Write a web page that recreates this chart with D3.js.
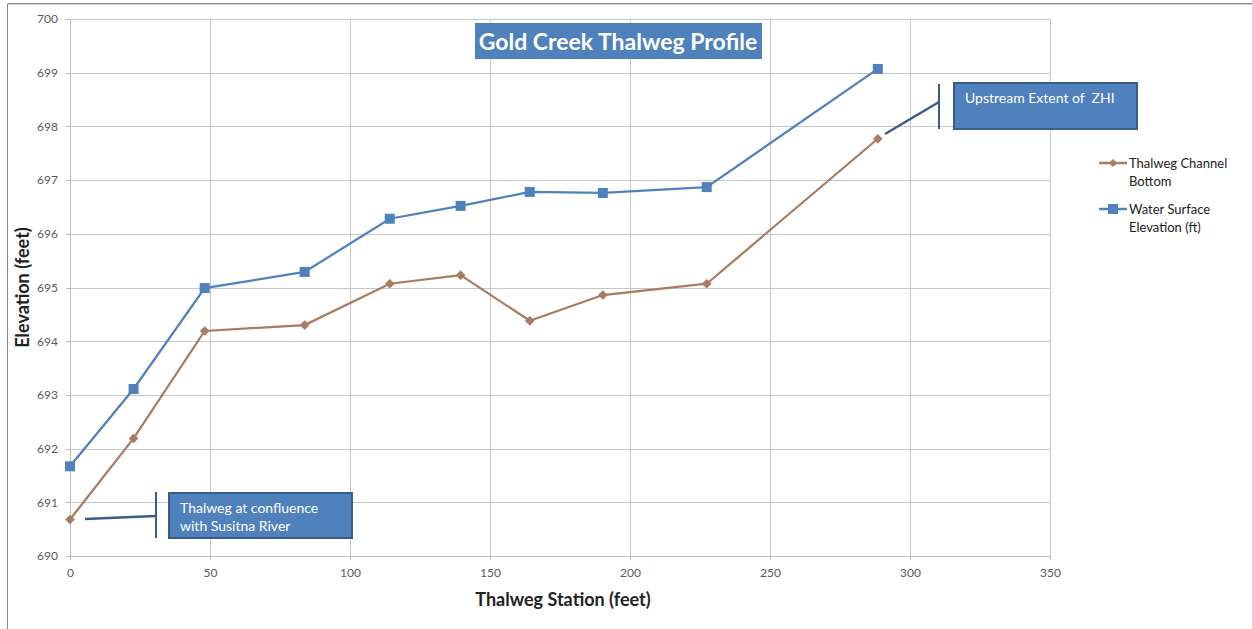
<!DOCTYPE html>
<html>
<head>
<title>Gold Creek Thalweg Profile</title>
<style>
body { margin: 0; background: #fff; }
text { font-family: Lato, "Open Sans", sans-serif; white-space: pre; }
.grid line { stroke: #c8c8c8; shape-rendering: crispEdges; }
.axis path, .axis line { stroke: #bdbdbd; shape-rendering: crispEdges; }
.axis text { fill: #595959; font-size: 12px; }
</style>
</head>
<body>
<script src="https://cdn.jsdelivr.net/npm/d3@7"></script>
<div id="chart"></div>
<script>
(function() {
    var stations = [0, 22.7, 48.1, 83.8, 114.2, 139.5, 164.2, 190.3, 227.4, 288.5];
    var waterSurface = [691.67, 693.11, 694.99, 695.29, 696.28, 696.52, 696.78, 696.76, 696.87, 699.07];
    var channelBottom = [690.68, 692.19, 694.19, 694.30, 695.07, 695.23, 694.38, 694.86, 695.07, 697.77];
    var xTicks = [0, 50, 100, 150, 200, 250, 300, 350];
    var yTicks = [690, 691, 692, 693, 694, 695, 696, 697, 698, 699, 700];
    var seriesNames = ["Thalweg Channel|Bottom", "Water Surface|Elevation (ft)"];

    var dimensions = { width: 1252, height: 629 };
    var margins = { top: 19, right: 202, bottom: 73, left: 70 };
    var blue = "#4f81bd", brown = "#a97b60", darkBlue = "#385d8a";

    var svg = d3.select("#chart").append("svg")
        .attr("width", dimensions.width)
        .attr("height", dimensions.height);

    // frame around the chart area
    svg.append("line").attr("x1", 7.5).attr("y1", 3.5).attr("x2", dimensions.width).attr("y2", 3.5)
        .attr("stroke", "#8c8c8c");
    svg.append("line").attr("x1", 7.5).attr("y1", 4.5).attr("x2", dimensions.width).attr("y2", 4.5)
        .attr("stroke", "#d0d0d0");
    svg.append("line").attr("x1", 7.5).attr("y1", 3.5).attr("x2", 7.5).attr("y2", dimensions.height)
        .attr("stroke", "#8c8c8c");

    var xscale = d3.scaleLinear().domain([0, 350])
        .range([margins.left, dimensions.width - margins.right]);
    var yscale = d3.scaleLinear().domain([690, 700])
        .range([dimensions.height - margins.bottom, margins.top]);

    var grid = svg.append("g").attr("class", "grid");
    grid.selectAll("line.h").data(yTicks).enter().append("line")
        .attr("class", "h")
        .attr("x1", xscale(0)).attr("x2", xscale(350))
        .attr("y1", function(d) { return Math.round(yscale(d)) + 0.5; })
        .attr("y2", function(d) { return Math.round(yscale(d)) + 0.5; });
    grid.selectAll("line.v").data(xTicks).enter().append("line")
        .attr("class", "v")
        .attr("y1", yscale(690)).attr("y2", yscale(700))
        .attr("x1", function(d) { return Math.round(xscale(d)) + 0.5; })
        .attr("x2", function(d) { return Math.round(xscale(d)) + 0.5; });

    svg.append("g")
        .attr("class", "axis")
        .attr("transform", "translate(0," + yscale(690) + ")")
        .call(d3.axisBottom(xscale).tickValues(xTicks).tickSize(4).tickSizeOuter(0).tickPadding(8));
    svg.append("g")
        .attr("class", "axis")
        .attr("transform", "translate(" + xscale(0) + ",0)")
        .call(d3.axisLeft(yscale).tickValues(yTicks).tickSize(4).tickSizeOuter(0).tickPadding(8));

    svg.append("text")
        .attr("x", 563).attr("y", 606)
        .attr("text-anchor", "middle")
        .attr("font-weight", "bold").attr("font-size", "18px").attr("fill", "#222")
        .text("Thalweg Station (feet)");
    svg.append("text")
        .attr("transform", "translate(29," + ((yscale(690) + yscale(700)) / 2) + ") rotate(-90)")
        .attr("text-anchor", "middle")
        .attr("font-weight", "bold").attr("font-size", "18px").attr("fill", "#222")
        .text("Elevation (feet)");

    // title box
    svg.append("rect").attr("x", 475).attr("y", 23).attr("width", 287).attr("height", 36)
        .attr("fill", blue);
    svg.append("text").attr("x", 618).attr("y", 50)
        .attr("text-anchor", "middle").attr("fill", "#fff")
        .attr("font-weight", "bold").attr("font-size", "23px")
        .text("Gold Creek Thalweg Profile");

    var line = d3.line()
        .x(function(d) { return xscale(d[0]); })
        .y(function(d) { return yscale(d[1]); });
    var bottomPts = d3.zip(stations, channelBottom);
    var waterPts = d3.zip(stations, waterSurface);

    svg.append("path").datum(bottomPts).attr("d", line)
        .attr("fill", "none").attr("stroke", brown).attr("stroke-width", 2.25);
    svg.append("path").datum(waterPts).attr("d", line)
        .attr("fill", "none").attr("stroke", blue).attr("stroke-width", 2.25);

    var diamond = d3.symbol().type(d3.symbolDiamond2).size(60);
    svg.selectAll("path.bot").data(bottomPts).enter().append("path")
        .attr("class", "bot")
        .attr("d", diamond)
        .attr("transform", function(d) { return "translate(" + xscale(d[0]) + "," + yscale(d[1]) + ")"; })
        .attr("fill", brown);
    svg.selectAll("rect.ws").data(waterPts).enter().append("rect")
        .attr("class", "ws")
        .attr("x", function(d) { return xscale(d[0]) - 5; })
        .attr("y", function(d) { return yscale(d[1]) - 5; })
        .attr("width", 10).attr("height", 10)
        .attr("fill", blue);

    // callouts
    function callout(bx, by, bw, bh, lines, barX, barY1, barY2, fromX, fromY, toY) {
        svg.append("line").attr("x1", fromX).attr("y1", fromY).attr("x2", barX).attr("y2", toY)
            .attr("stroke", darkBlue).attr("stroke-width", 2.5);
        svg.append("line").attr("x1", barX).attr("y1", barY1).attr("x2", barX).attr("y2", barY2)
            .attr("stroke", darkBlue).attr("stroke-width", 2);
        svg.append("rect").attr("x", bx).attr("y", by).attr("width", bw).attr("height", bh)
            .attr("fill", blue).attr("stroke", darkBlue).attr("stroke-width", 2);
        lines.forEach(function(t, i) {
            svg.append("text").attr("x", bx + 11).attr("y", by + 20 + i * 18)
                .attr("fill", "#fff").attr("font-size", "14px")
                .text(t);
        });
    }
    callout(169, 493, 183, 45, ["Thalweg at confluence", "with Susitna River"],
        156, 492, 538, 85, 519, 516);
    callout(954, 83, 183, 46, ["Upstream Extent of  ZHI"],
        939, 84, 129, 885, 134, 102);

    // legend
    var legend = svg.append("g").attr("transform", "translate(1099,163)");
    seriesNames.forEach(function(name, i) {
        var g = legend.append("g").attr("transform", "translate(0," + (i * 46) + ")");
        var col = i === 0 ? brown : blue;
        g.append("line").attr("x1", 0).attr("x2", 28).attr("y1", 0).attr("y2", 0)
            .attr("stroke", col).attr("stroke-width", 2.5);
        if (i === 0) {
            g.append("path").attr("d", d3.symbol().type(d3.symbolDiamond2).size(40))
                .attr("transform", "translate(14,0)").attr("fill", col);
        } else {
            g.append("rect").attr("x", 9).attr("y", -5).attr("width", 10).attr("height", 10)
                .attr("fill", col);
        }
        name.split("|").forEach(function(t, j) {
            g.append("text").attr("x", 30).attr("y", 5 + j * 18)
                .attr("font-size", "13px").attr("fill", "#222")
                .text(t);
        });
    });
})();
</script>
</body>
</html>
